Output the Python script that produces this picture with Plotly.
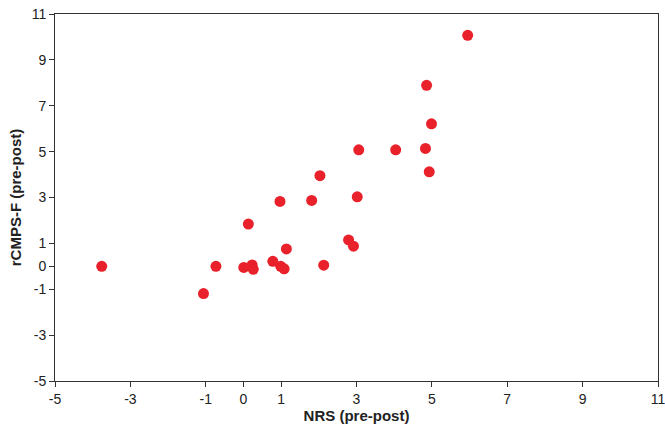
import plotly.graph_objects as go

nrs = [-3.76, -1.06, -0.73, 0.01, 0.23, 0.26, 0.13, 0.78, 0.99, 1.08, 1.14, 0.97, 1.81,
       2.03, 2.13, 2.79, 2.92, 3.02, 3.06, 4.04, 4.83, 4.93, 4.99, 4.86, 5.95]
rcmps = [0.0, -1.19, 0.0, -0.05, 0.06, -0.13, 1.84, 0.22, 0.0, -0.11, 0.76, 2.83, 2.87,
         3.95, 0.05, 1.15, 0.88, 3.03, 5.08, 5.08, 5.14, 4.12, 6.21, 7.89, 10.07]
tick_vals = [-5, -3, -1, 0, 1, 3, 5, 7, 9, 11]
tick_text = ["-5", "-3", "-1", "0", "1", "3", "5", "7", "9", "11"]

fig = go.Figure(go.Scatter(
    x=nrs, y=rcmps, mode="markers",
    marker=dict(size=11, color="#e8212b", line=dict(width=0)),
))

font_family = "Liberation Sans Narrow, Liberation Sans, Arial, sans-serif"
axis_common = dict(
    showgrid=False, zeroline=False, showline=True, linecolor="#333333", linewidth=1,
    mirror=True, ticks="outside", ticklen=5, tickcolor="#333333", tickwidth=1,
    tickvals=tick_vals, ticktext=tick_text, automargin=False, ticklabeloverflow="allow",
    tickfont=dict(size=14, color="#222222", family=font_family),
)

fig.update_layout(
    width=665, height=428,
    margin=dict(l=55, r=7, t=14, b=47, pad=0),
    paper_bgcolor="white", plot_bgcolor="white",
    showlegend=False,
    xaxis=dict(range=[-5, 11], title=dict(text="<b>NRS (pre-post)</b>", standoff=4,
               font=dict(size=15, color="#222222", family=font_family)), **axis_common),
    yaxis=dict(range=[-5, 11], title=dict(text="<b>rCMPS-F (pre-post)</b>", standoff=6,
               font=dict(size=15, color="#222222", family=font_family)), **axis_common),
)

fig.write_html("out.html", config={"displayModeBar": False},
               post_script="document.body.style.margin='0';document.body.style.overflow='hidden';")
